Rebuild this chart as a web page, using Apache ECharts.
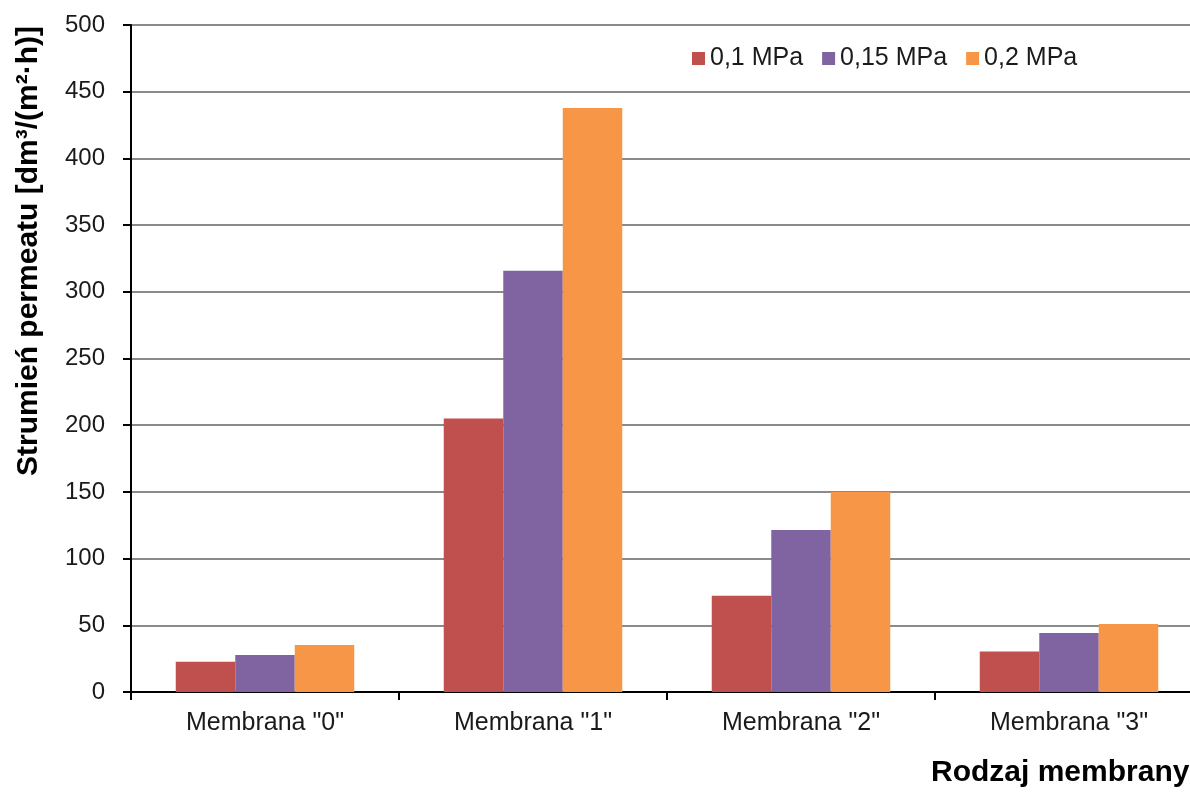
<!DOCTYPE html>
<html>
<head>
<meta charset="utf-8">
<script src="https://cdn.jsdelivr.net/npm/echarts@6/dist/echarts.min.js"></script>
<style>html,body{margin:0;padding:0;background:#fff;overflow:hidden;width:1190px;height:794px}#c{width:1215px;height:794px}</style>
</head>
<body>
<div id="c"></div>
<script>
const categories = ['Membrana "0"', 'Membrana "1"', 'Membrana "2"', 'Membrana "3"'];
const seriesNames = ['0,1 MPa', '0,15 MPa', '0,2 MPa'];
const p01 = [22.7, 205, 72.2, 30.4];
const p015 = [27.7, 315.7, 121.4, 44.2];
const p02 = [35.2, 437.8, 150, 50.9];
const colors = ['#C0504D', '#8064A2', '#F79646'];
const yTitle = 'Strumień permeatu [dm³/(m²·h)]';
const xTitle = 'Rodzaj membrany';

const font = "'Liberation Sans', Arial, sans-serif";
const chart = echarts.init(document.getElementById('c'), null, {renderer: 'canvas'});
const dataSets = [p01, p015, p02];
chart.setOption({
  animation: false,
  backgroundColor: '#fff',
  textStyle: {fontFamily: font},
  grid: {left: 131, top: 25, width: 1072, height: 667, containLabel: false},
  legend: {
    left: 687, top: 41,
    itemWidth: 13, itemHeight: 13, itemGap: 19,
    icon: 'rect',
    textStyle: {fontSize: 25, color: '#1a1a1a', fontFamily: font},
    data: seriesNames
  },
  xAxis: {
    type: 'category',
    data: categories,
    axisLine: {lineStyle: {color: '#000', width: 2}},
    axisTick: {show: true, length: 8, lineStyle: {color: '#000', width: 2}},
    axisLabel: {fontSize: 25, color: '#1a1a1a', margin: 19, fontFamily: font},
    splitLine: {show: false}
  },
  yAxis: {
    type: 'value',
    min: 0, max: 500, interval: 50,
    axisLine: {show: true, lineStyle: {color: '#000', width: 2}},
    axisTick: {show: true, length: 8, lineStyle: {color: '#000', width: 2}},
    axisLabel: {fontSize: 24, color: '#1a1a1a', margin: 26, fontFamily: font},
    splitLine: {show: true, lineStyle: {color: '#8a8a8a', width: 2}}
  },
  graphic: [
    {
      type: 'text', x: 29, y: 251, rotation: Math.PI / 2,
      style: {text: yTitle, fill: '#000', font: "bold 30px 'Liberation Sans', Arial, sans-serif", textAlign: 'center', textVerticalAlign: 'middle'}
    },
    {
      type: 'text', x: 931, y: 773,
      style: {text: xTitle, fill: '#000', font: "bold 30px 'Liberation Sans', Arial, sans-serif", textAlign: 'left', textVerticalAlign: 'middle'}
    }
  ],
  series: seriesNames.map((n, i) => ({
    name: n,
    type: 'bar',
    data: dataSets[i],
    barWidth: 59.5,
    barGap: '0%',
    itemStyle: {color: colors[i]}
  }))
});
</script>
</body>
</html>
